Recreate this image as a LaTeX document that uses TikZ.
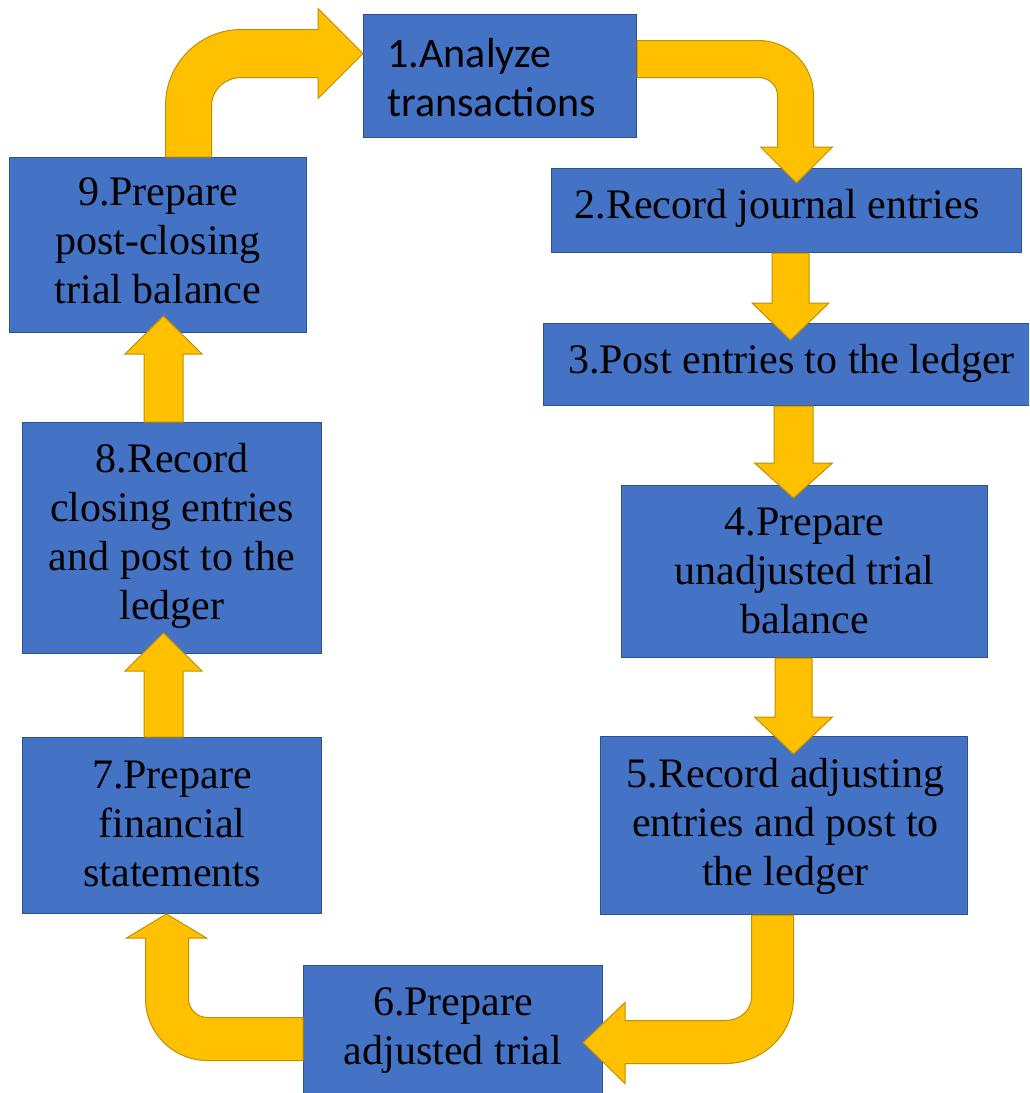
\documentclass[tikz,border=0pt]{standalone}
\usepackage{fontspec}
\setmainfont{Liberation Serif}
\newfontfamily\calib{Carlito}
\usetikzlibrary{calc}
\definecolor{boxblue}{HTML}{4472C4}
\definecolor{boxedge}{HTML}{2F528F}
\definecolor{arrowgold}{HTML}{FFC000}
\definecolor{arrowedge}{HTML}{BF9000}
% #1 raise of first baseline above box centre, #2 horizontal shift, #3 lines
\newcommand{\boxtxt}[3]{\raisebox{#1pt}[0pt][0pt]{\makebox[0pt]{\hspace*{#2pt}\hspace*{#2pt}\begin{tabular}[t]{@{}c@{}}#3\end{tabular}}}}
% straight block arrow: #1 start (edge of source), #2 tip, #3 half shaft, #4 half head, #5 signed head length
\newcommand{\vbarrow}[5]{%
  \path[barrow] let \p1=#1, \p2=#2 in
    (\x2-#3,\y1) -- (\x2-#3,{\y2+(#5)}) -- (\x2-#4,{\y2+(#5)}) -- (\x2,\y2)
    -- (\x2+#4,{\y2+(#5)}) -- (\x2+#3,{\y2+(#5)}) -- (\x2+#3,\y1) -- cycle;}
\begin{document}
\begin{tikzpicture}[x=1pt,y=-1pt,
  box/.style={draw=boxedge, fill=boxblue, line width=1pt, inner sep=0pt, anchor=north west,
              font=\fontsize{42}{49}\selectfont},
  barrow/.style={fill=arrowgold, draw=arrowedge, line width=1pt, line join=miter}]
\useasboundingbox (0,0) rectangle (1029,1093);
\fill[white] (0,0) rectangle (1029,1093);
\clip (0,0) rectangle (1029,1093);

% boxes
\node[box, minimum width=273pt, minimum height=123pt] (b1) at (363,14)
  {\raisebox{8.5pt}[0pt][0pt]{\makebox[0pt][l]{\hspace*{-112.5pt}\calib\begin{tabular}[t]{@{}l@{}}1.Analyze\\transactions\end{tabular}}}};
\node[box, minimum width=470pt, minimum height=84pt] (b2) at (551,168)
  {\boxtxt{-8}{-9.5}{2.Record journal entries}};
\node[box, minimum width=500pt, minimum height=82pt] (b3) at (543,323)
  {\boxtxt{-9}{-2}{3.Post entries to the ledger}};
\node[box, minimum width=366pt, minimum height=172pt] (b4) at (621,485)
  {\boxtxt{36}{0}{4.Prepare\\unadjusted trial\\balance}};
\node[box, minimum width=367pt, minimum height=178pt] (b5) at (600,736)
  {\boxtxt{38}{1.5}{5.Record adjusting\\entries and post to\\the ledger}};
\node[box, minimum width=299pt, minimum height=145pt] (b6) at (303,965)
  {\boxtxt{22.5}{0}{6.Prepare\\adjusted trial}};
\node[box, minimum width=299pt, minimum height=176pt] (b7) at (22,737)
  {\boxtxt{37}{0}{7.Prepare\\financial\\statements}};
\node[box, minimum width=299pt, minimum height=231pt] (b8) at (22,422)
  {\boxtxt{65.5}{0}{8.Record\\closing entries\\and post to the\\ledger}};
\node[box, minimum width=297pt, minimum height=175pt] (b9) at (9,157)
  {\boxtxt{39.5}{0}{9.Prepare\\post-closing\\trial balance}};

% straight arrows
\vbarrow{(b2.south)}{($(b3.north)+(-3,17)$)}{18.5pt}{38.5pt}{37pt}
\vbarrow{(b3.south)}{($(b4.north)+(-11,13)$)}{19.5pt}{39pt}{35pt}
\vbarrow{(b4.south)}{($(b5.north)+(9.5,18)$)}{18.5pt}{39pt}{37pt}
\vbarrow{(b7.north)}{($(b8.south)+(-8.5,-21)$)}{19.5pt}{38.5pt}{-38pt}
\vbarrow{(b8.north)}{($(b9.south)+(5.5,-17)$)}{19.5pt}{38.5pt}{-38pt}

% 9 -> 1 (bent)
\path[barrow] let \p1=(b9.north), \p2=($(b1.west)+(0,-22.5)$) in
  (\x1+7.5pt,\y1) -- (\x1+7.5pt,\y2-52pt) arc[start angle=180,end angle=90,radius=76pt]
  -- (\x2-45pt,\y2+24pt) -- (\x2-45pt,\y2+45pt) -- (\x2,\y2) -- (\x2-45pt,\y2-45pt)
  -- (\x2-45pt,\y2-24pt) -- (\x1+83.5pt,\y2-24pt) arc[start angle=90,end angle=180,x radius=30pt,y radius=28pt]
  -- (\x1+53.5pt,\y1) -- cycle;

% 1 -> 2 (bent)
\path[barrow] let \p1=(b1.east), \p2=($(b2.north)+(10,15)$) in
  (\x1,\y1+35.5pt) -- (\x2-38pt,\y1+35.5pt) arc[start angle=90,end angle=0,radius=55pt]
  -- (\x2+17pt,\y2+36pt) -- (\x2+36pt,\y2+36pt) -- (\x2,\y2) -- (\x2-36pt,\y2+36pt)
  -- (\x2-19pt,\y2+36pt) -- (\x2-19pt,\y1-19.5pt) arc[start angle=0,end angle=90,x radius=19pt,y radius=18pt]
  -- (\x1,\y1-1.5pt) -- cycle;

% 5 -> 6 (bent)
\path[barrow] let \p1=(b5.south), \p2=($(b6.east)+(-20,4.5)$) in
  (\x1-32.5pt,\y1) -- (\x1+9.5pt,\y1) -- (\x1+9.5pt,\y2+45pt)
  arc[start angle=0,end angle=-90,x radius=68pt,y radius=66pt]
  -- (\x2+42pt,\y2-21pt) -- (\x2+42pt,\y2-41pt) -- (\x2,\y2) -- (\x2+42pt,\y2+40pt)
  -- (\x2+42pt,\y2+22pt) -- (\x1-58.5pt,\y2+22pt)
  arc[start angle=-90,end angle=0,x radius=26pt,y radius=23pt] -- cycle;

% 6 -> 7 (bent)
\path[barrow] let \p1=(b6.west), \p2=($(b7.south)+(-5.5,0)$) in
  (\x1,\y1+20.5pt) -- (\x2+41pt,\y1+20.5pt) arc[start angle=-90,end angle=-180,radius=19pt]
  -- (\x2+22pt,\y2-24pt) -- (\x2+40pt,\y2-24pt) -- (\x2,\y2) -- (\x2-40pt,\y2-24pt)
  -- (\x2-21pt,\y2-24pt) -- (\x2-21pt,\y1+39.5pt) arc[start angle=180,end angle=270,radius=62pt]
  -- (\x1,\y1-22.5pt) -- cycle;
\end{tikzpicture}
\end{document}
